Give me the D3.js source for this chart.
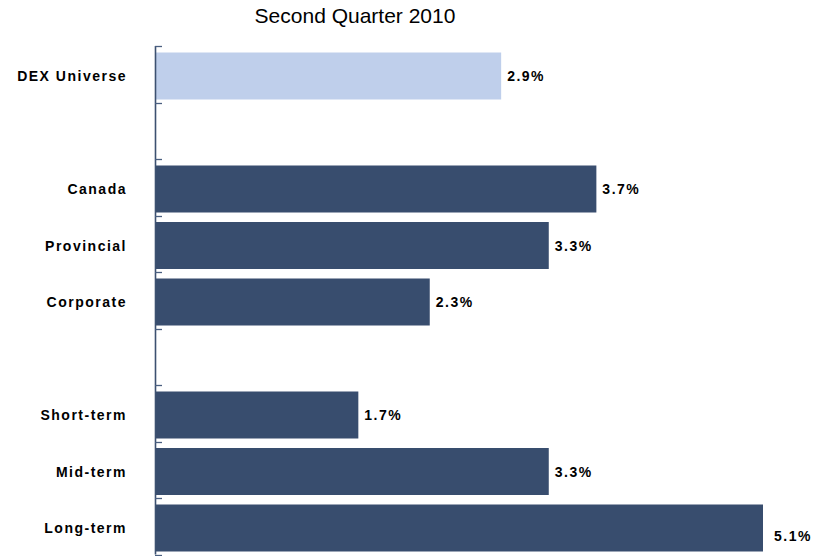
<!DOCTYPE html>
<html>
<head>
<meta charset="utf-8">
<script src="https://cdn.jsdelivr.net/npm/d3@7"></script>
<style>
  html, body { margin: 0; padding: 0; background: #fff; }
  svg { display: block; }
  text { font-family: "Liberation Sans", Arial, sans-serif; }
</style>
</head>
<body>
<svg id="chart" width="822" height="556"></svg>
<script>
const title = "Second Quarter 2010";
const categories = ["DEX Universe", "", "Canada", "Provincial", "Corporate", "", "Short-term", "Mid-term", "Long-term"];
const values = [2.9, null, 3.7, 3.3, 2.3, null, 1.7, 3.3, 5.1];
const highlight = [true, false, false, false, false, false, false, false, false];

const svg = d3.select("#chart");
const axisX = 156;

const y = d3.scaleBand().domain(d3.range(categories.length)).range([46, 554.5]).padding(0);
const x = d3.scaleLinear().domain([0, 5.1]).range([axisX, 763]);
const barOffset = 6.5, barH = 47;
const maxV = d3.max(values);

svg.append("text")
  .attr("x", 355).attr("y", 23)
  .attr("text-anchor", "middle")
  .attr("font-size", 21)
  .attr("fill", "#000")
  .text(title);

const data = categories.map((c, i) => ({ c, v: values[i], hl: highlight[i], i }));

svg.selectAll("rect.bar").data(data.filter(d => d.v != null)).enter()
  .append("rect").attr("class", "bar")
  .attr("x", x(0))
  .attr("y", d => y(d.i) + barOffset)
  .attr("width", d => x(d.v) - x(0))
  .attr("height", barH)
  .attr("fill", d => d.hl ? "#bfcfeb" : "#384d6e");

// axis line and ticks
svg.append("line")
  .attr("x1", axisX - 0.5).attr("x2", axisX - 0.5)
  .attr("y1", y(0)).attr("y2", y.range()[1])
  .attr("stroke", "#3d5170").attr("stroke-width", 1.6);
const tickYs = d3.range(categories.length).map(i => y(i)).concat([y.range()[1]]);
svg.selectAll("line.tick").data(tickYs).enter()
  .append("line").attr("class", "tick")
  .attr("x1", axisX - 1).attr("x2", axisX + 6)
  .attr("y1", d => Math.round(d) + 0.5).attr("y2", d => Math.round(d) + 0.5)
  .attr("stroke", "#4a5f80").attr("stroke-width", 1.3);

// category labels
svg.selectAll("text.cat").data(data.filter(d => d.c)).enter()
  .append("text").attr("class", "cat")
  .attr("x", 127)
  .attr("y", d => y(d.i) + barOffset + barH / 2 + 5)
  .attr("text-anchor", "end")
  .attr("font-size", 14).attr("font-weight", "bold")
  .attr("letter-spacing", "1.5px")
  .attr("fill", "#000")
  .text(d => d.c);

// value labels (the longest bar's label is nudged right/down as in the original)
svg.selectAll("text.val").data(data.filter(d => d.v != null)).enter()
  .append("text").attr("class", "val")
  .attr("x", d => x(d.v) + (d.v === maxV ? 11 : 6))
  .attr("y", d => y(d.i) + barOffset + barH / 2 + (d.v === maxV ? 13 : 5))
  .attr("font-size", 14).attr("font-weight", "bold")
  .attr("letter-spacing", "1.5px")
  .attr("fill", "#000")
  .text(d => d.v.toFixed(1) + "%");
</script>
</body>
</html>
